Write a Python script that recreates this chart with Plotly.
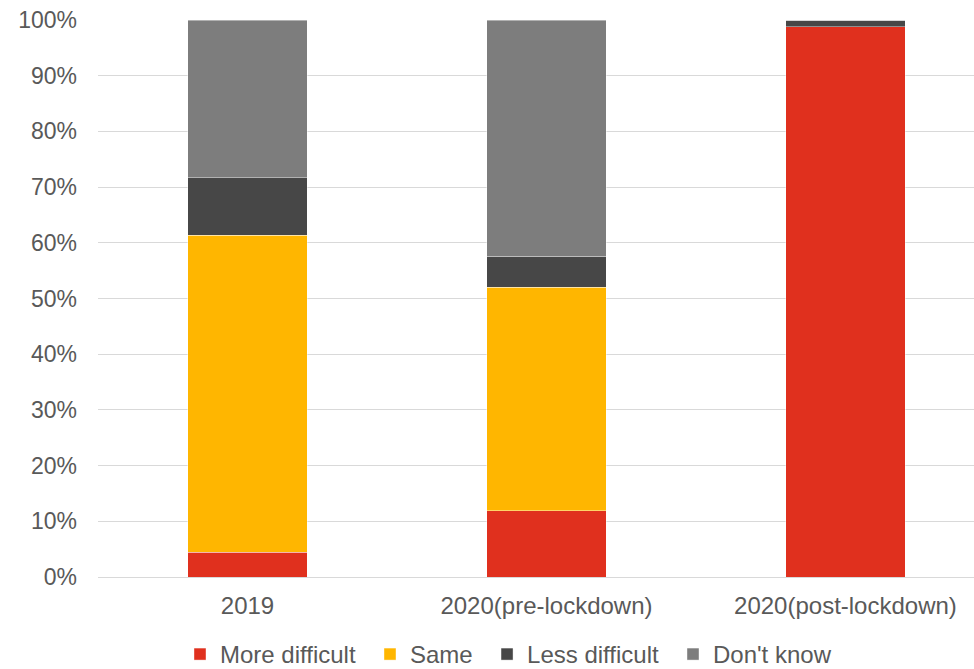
import plotly.graph_objects as go

categories = ["2019", "2020(pre-lockdown)", "2020(post-lockdown)"]
more_difficult = [4.4, 11.9, 98.8]
same = [57.0, 40.1, 0.0]
less_difficult = [10.3, 5.6, 1.2]
dont_know = [28.3, 42.4, 0.0]
y_ticks = list(range(0, 101, 10))

series = [
    ("More difficult", more_difficult, "#E0301E", "legend", 0.0936),
    ("Same", same, "#FFB600", "legend2", 0.3105),
    ("Less difficult", less_difficult, "#474747", "legend3", 0.4441),
    ("Don't know", dont_know, "#7D7D7D", "legend4", 0.6564),
]

font_family = "Liberation Sans, Arial, sans-serif"
text_color = "#595959"

fig = go.Figure()
legend_layouts = {}
for name, vals, color, leg, lx in series:
    fig.add_trace(go.Bar(
        name=name, x=categories, y=vals, marker_color=color,
        marker_line=dict(color="rgba(255,255,255,0.5)", width=0.8),
        width=0.4, legend=leg,
    ))
    legend_layouts[leg] = dict(
        orientation="h", x=lx, xanchor="left", y=-0.1391, yanchor="middle",
        font=dict(size=24, color=text_color, family=font_family),
        bgcolor="rgba(0,0,0,0)", itemwidth=30,
    )

fig.update_layout(
    barmode="stack",
    width=974, height=669,
    margin=dict(l=98, r=0, t=20, b=92, autoexpand=False),
    plot_bgcolor="white", paper_bgcolor="white",
    font=dict(family=font_family, size=23, color=text_color),
    showlegend=True,
    xaxis=dict(range=[-0.5, 2.43], showgrid=False, showline=False, ticks="",
               ticklabelstandoff=12, tickfont=dict(size=24, color=text_color)),
    yaxis=dict(range=[0, 100], tickvals=y_ticks, ticktext=[f"{v}%" for v in y_ticks],
               showgrid=True, gridcolor="#D9D9D9", gridwidth=1.3, zeroline=True,
               zerolinecolor="#D9D9D9", zerolinewidth=1.3, ticks="",
               ticklabelstandoff=20, tickfont=dict(size=23, color=text_color)),
    **legend_layouts,
)

fig.write_html("out.html")
